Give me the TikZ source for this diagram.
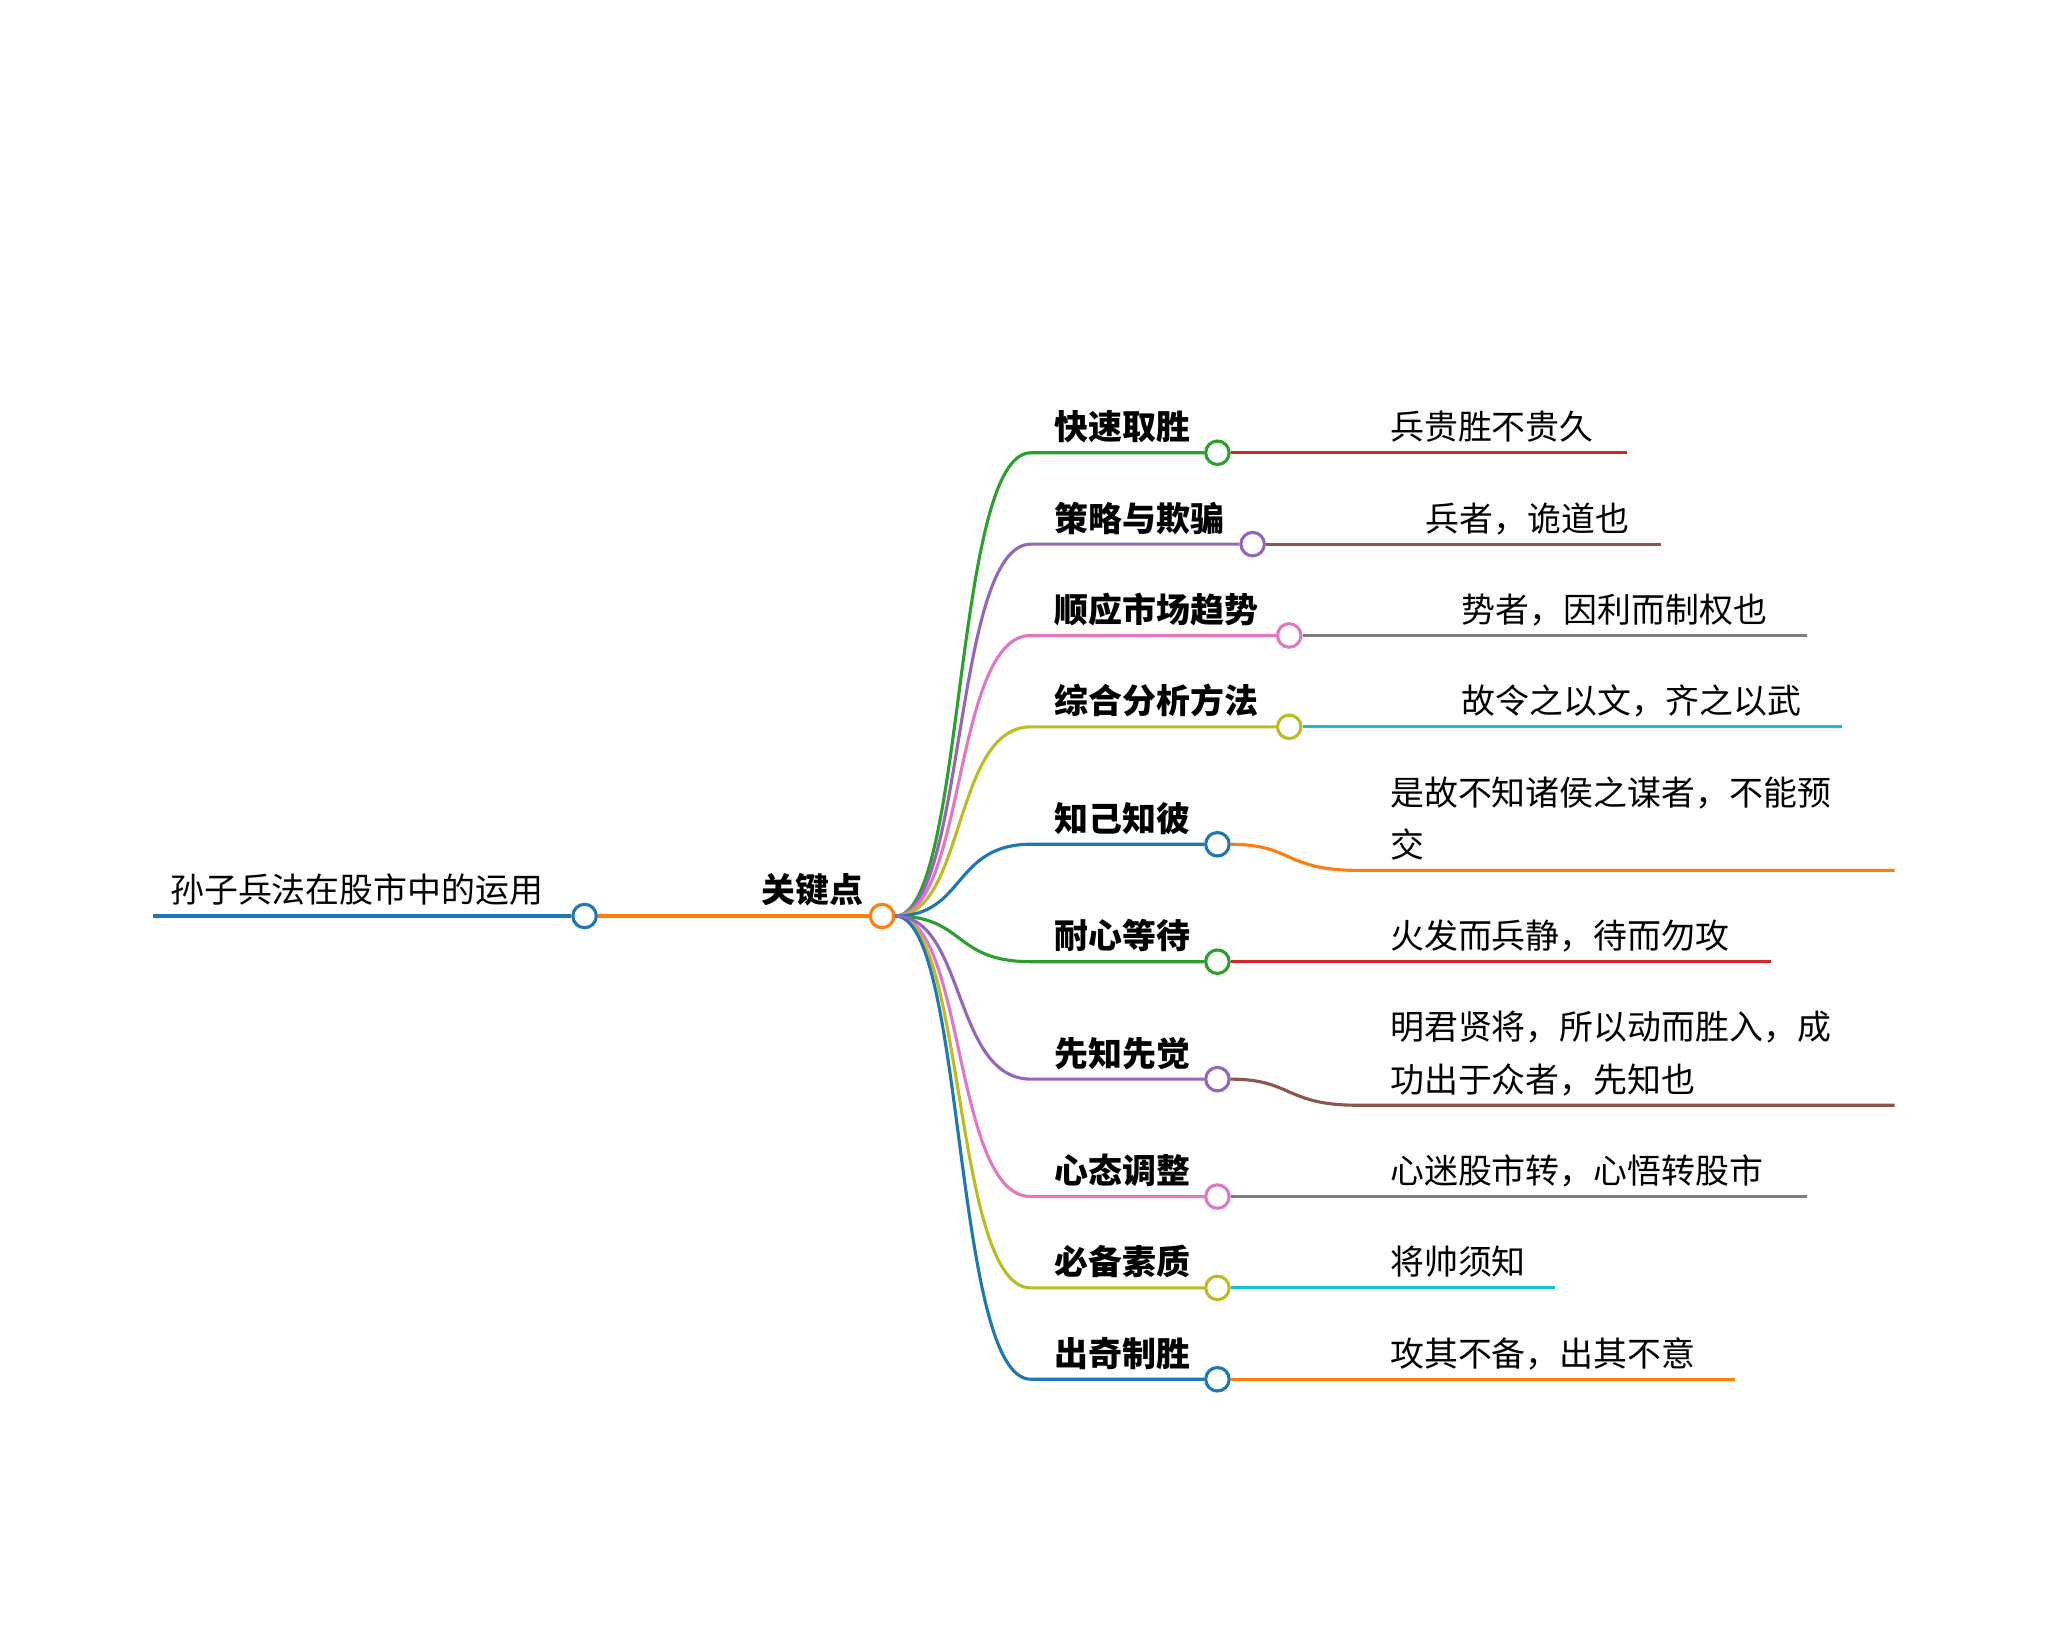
\documentclass[tikz,border=0pt]{standalone}
\usepackage{fontspec}
\setmainfont{Noto Sans CJK SC}
\definecolor{tblue}{HTML}{1F77B4}
\definecolor{torange}{HTML}{FF7F0E}
\definecolor{tgreen}{HTML}{2CA02C}
\definecolor{tred}{HTML}{D62728}
\definecolor{tpurple}{HTML}{9467BD}
\definecolor{tbrown}{HTML}{8C564B}
\definecolor{tpink}{HTML}{E377C2}
\definecolor{tgray}{HTML}{7F7F7F}
\definecolor{tolive}{HTML}{BCBD22}
\definecolor{tcyan}{HTML}{17BECF}
\tikzset{
  knob/.style={circle,draw=#1,fill=white,line width=1.2pt,inner sep=0pt,minimum size=9pt},
  txt/.style={anchor=base west,inner sep=0pt,font=\fontsize{13}{16}\selectfont},
  btxt/.style={txt,font=\fontsize{13}{16}\selectfont\bfseries},
  wire/.style={line width=1.2pt,draw=#1}
}
\begin{document}
\begin{tikzpicture}[x=0.5pt,y=-0.5pt]
\useasboundingbox (0,0) rectangle (1568,1260);
% root
\node[knob=tblue] (root) at (448,702) {};
\coordinate (rootl) at (117,702);
\node[txt] (roott) at (130,692) {孙子兵法在股市中的运用};
\node[knob=torange] (key) at (676,702) {};
\node[btxt,anchor=base east] (keyt) at (662,692) {关键点};
\draw[wire=tblue] (rootl) -- (root);
\draw[wire=torange] (root) -- (key);
% branches
\foreach \n/\y/\cx/\bc/\lc/\ex/\lab in {
  1/347/933/tgreen/tred/1247/快速取胜,
  2/417/960/tpurple/tbrown/1273/策略与欺骗,
  3/487/988/tpink/tgray/1385/顺应市场趋势,
  4/557/988/tolive/tcyan/1412/综合分析方法,
  6/737/933/tgreen/tred/1357/耐心等待,
  8/917/933/tpink/tgray/1385/心态调整,
  9/987/933/tolive/tcyan/1192/必备素质,
  10/1057/933/tblue/torange/1330/出奇制胜}{
  \coordinate (b\n) at (790,\y);
  \coordinate (e\n) at (\ex,\y);
  \node[knob=\bc] (c\n) at (\cx,\y) {};
  \node[btxt] (l\n) at (808,\y-10) {\lab};
  \draw[wire=\bc] (key) .. controls (740,702) and (730,\y) .. (b\n) -- (c\n);
  \draw[wire=\lc] (c\n) -- (e\n);
}
% two-line branches
\foreach \n/\y/\bc/\lc/\lab in {5/647/tblue/torange/知己知彼, 7/827/tpurple/tbrown/先知先觉}{
  \coordinate (b\n) at (790,\y);
  \coordinate (m\n) at (1040,\y+20);
  \coordinate (e\n) at (1452,\y+20);
  \node[knob=\bc] (c\n) at (933,\y) {};
  \node[btxt] (l\n) at (808,\y-10) {\lab};
  \draw[wire=\bc] (key) .. controls (740,702) and (730,\y) .. (b\n) -- (c\n);
  \draw[wire=\lc] (c\n) .. controls (990,\y) and (985,\y+20) .. (m\n) -- (e\n);
}
% leaf texts
\node[txt] (t1) at (1065,337) {兵贵胜不贵久};
\node[txt] (t2) at (1092,407) {兵者，诡道也};
\node[txt] (t3) at (1120,477) {势者，因利而制权也};
\node[txt] (t4) at (1120,547) {故令之以文，齐之以武};
\node[txt] (t5a) at (1065,617) {是故不知诸侯之谋者，不能预};
\node[txt] (t5b) at (1065,657) {交};
\node[txt] (t6) at (1065,727) {火发而兵静，待而勿攻};
\node[txt] (t7a) at (1065,797) {明君贤将，所以动而胜入，成};
\node[txt] (t7b) at (1065,837) {功出于众者，先知也};
\node[txt] (t8) at (1065,907) {心迷股市转，心悟转股市};
\node[txt] (t9) at (1065,977) {将帅须知};
\node[txt] (t10) at (1065,1047) {攻其不备，出其不意};
\end{tikzpicture}
\end{document}
